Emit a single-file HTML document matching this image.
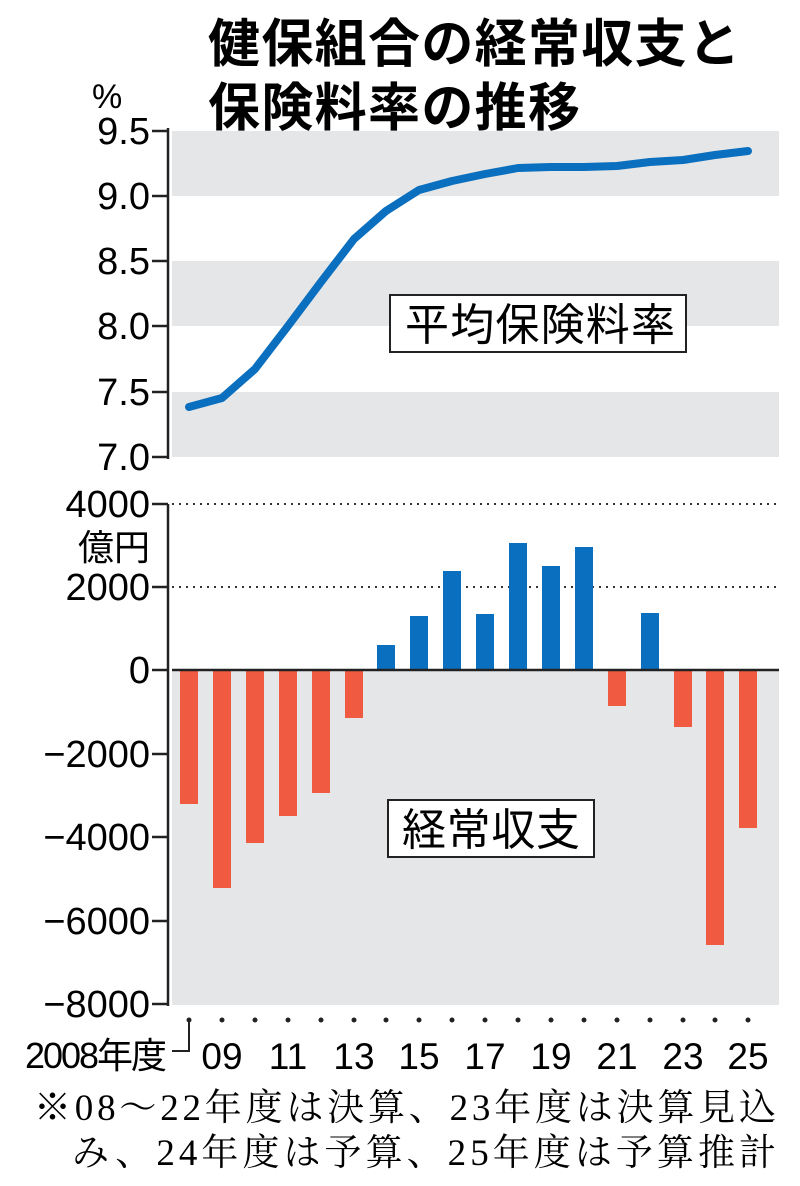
<!DOCTYPE html>
<html><head><meta charset="utf-8"><style>
body{margin:0;background:#fff;}
svg{display:block;}
.t{font-family:"Liberation Sans","Noto Sans CJK JP",sans-serif;}
.s{font-family:"Liberation Serif","Noto Serif CJK SC",serif;}
</style></head><body>
<svg width="800" height="1186" xmlns="http://www.w3.org/2000/svg">
<text class="t" x="208" y="62" font-size="52" font-weight="bold" textLength="532">健保組合の経常収支と</text>
<text class="t" x="208" y="126" font-size="52" font-weight="bold" textLength="372">保険料率の推移</text>
<text class="t" x="92" y="108" font-size="34">%</text>
<rect x="172" y="131" width="607" height="65" fill="#e5e6e8"/>
<rect x="172" y="261" width="607" height="65" fill="#e5e6e8"/>
<rect x="172" y="392" width="607" height="65" fill="#e5e6e8"/>
<line x1="168" y1="128" x2="168" y2="459" stroke="#222" stroke-width="2.5"/>
<g stroke="#222" stroke-width="2.5">
<line x1="152" y1="131" x2="168" y2="131"/><line x1="152" y1="196" x2="168" y2="196"/>
<line x1="152" y1="261" x2="168" y2="261"/><line x1="152" y1="326" x2="168" y2="326"/>
<line x1="152" y1="392" x2="168" y2="392"/><line x1="152" y1="457" x2="168" y2="457"/>
</g>
<g class="t" font-size="38" text-anchor="end">
<text x="150" y="144">9.5</text><text x="150" y="209">9.0</text><text x="150" y="274">8.5</text>
<text x="150" y="339">8.0</text><text x="150" y="405">7.5</text><text x="150" y="470">7.0</text>
</g>
<polyline fill="none" stroke="#0a6fbe" stroke-width="8" stroke-linecap="round" stroke-linejoin="round"
points="189,407 222,398 255,369 288,326 321,282 354,239 386,211 419,190 452,181 485,174 518,168 551,167 584,167 617,166 650,162 683,160 715,155 748,151"/>
<rect x="390" y="295" width="296" height="57" fill="#fff" stroke="#222" stroke-width="2"/>
<text class="t" x="405" y="340" font-size="44" textLength="270">平均保険料率</text>
<rect x="172" y="670" width="607" height="335" fill="#e5e6e8"/>
<g stroke="#333" stroke-width="2" stroke-dasharray="2,5">
<line x1="172" y1="504" x2="779" y2="504"/><line x1="172" y1="587" x2="779" y2="587"/>
</g>
<line x1="168" y1="504" x2="168" y2="1006" stroke="#222" stroke-width="2.5"/>
<g stroke="#222" stroke-width="2.5">
<line x1="152" y1="504" x2="168" y2="504"/><line x1="152" y1="587" x2="168" y2="587"/>
<line x1="152" y1="670" x2="168" y2="670"/><line x1="152" y1="754" x2="168" y2="754"/>
<line x1="152" y1="837" x2="168" y2="837"/><line x1="152" y1="921" x2="168" y2="921"/>
<line x1="152" y1="1004" x2="168" y2="1004"/>
</g>
<g class="t" font-size="38" text-anchor="end">
<text x="150" y="517">4000</text><text x="150" y="600">2000</text><text x="150" y="683">0</text>
<text x="150" y="767">−2000</text><text x="150" y="850">−4000</text><text x="150" y="934">−6000</text>
<text x="150" y="1017">−8000</text>
</g>
<text class="t" x="150" y="560" font-size="36" text-anchor="end">億円</text>
<g fill="#ef5a40">
<rect x="180" y="670" width="18" height="134"/>
<rect x="213" y="670" width="18" height="218"/>
<rect x="246" y="670" width="18" height="173"/>
<rect x="279" y="670" width="18" height="146"/>
<rect x="312" y="670" width="18" height="123"/>
<rect x="345" y="670" width="18" height="48"/>
<rect x="608" y="670" width="18" height="36"/>
<rect x="674" y="670" width="18" height="57"/>
<rect x="706" y="670" width="18" height="275"/>
<rect x="739" y="670" width="18" height="158"/>
</g>
<g fill="#0a6fbe">
<rect x="377" y="645" width="18" height="25"/>
<rect x="410" y="616" width="18" height="54"/>
<rect x="443" y="571" width="18" height="99"/>
<rect x="476" y="614" width="18" height="56"/>
<rect x="509" y="543" width="18" height="127"/>
<rect x="542" y="566" width="18" height="104"/>
<rect x="575" y="547" width="18" height="123"/>
<rect x="641" y="613" width="18" height="57"/>
</g>
<line x1="172" y1="670" x2="779" y2="670" stroke="#222" stroke-width="2.5"/>
<rect x="388" y="800" width="206" height="57" fill="#fff" stroke="#222" stroke-width="2"/>
<text class="t" x="402" y="845" font-size="44" textLength="178">経常収支</text>
<g fill="#222">
<circle cx="189" cy="1020" r="2.5"/><circle cx="222" cy="1020" r="2.5"/><circle cx="255" cy="1020" r="2.5"/>
<circle cx="288" cy="1020" r="2.5"/><circle cx="321" cy="1020" r="2.5"/><circle cx="354" cy="1020" r="2.5"/>
<circle cx="386" cy="1020" r="2.5"/><circle cx="419" cy="1020" r="2.5"/><circle cx="452" cy="1020" r="2.5"/>
<circle cx="485" cy="1020" r="2.5"/><circle cx="518" cy="1020" r="2.5"/><circle cx="551" cy="1020" r="2.5"/>
<circle cx="584" cy="1020" r="2.5"/><circle cx="617" cy="1020" r="2.5"/><circle cx="650" cy="1020" r="2.5"/>
<circle cx="683" cy="1020" r="2.5"/><circle cx="715" cy="1020" r="2.5"/><circle cx="748" cy="1020" r="2.5"/>
</g>
<polyline points="172,1051 189,1051 189,1022" fill="none" stroke="#222" stroke-width="2"/>
<text class="t" x="25" y="1068" font-size="36" textLength="142">2008年度</text>
<g class="t" font-size="37" text-anchor="middle">
<text x="222" y="1069">09</text><text x="288" y="1069">11</text><text x="354" y="1069">13</text>
<text x="419" y="1069">15</text><text x="485" y="1069">17</text><text x="551" y="1069">19</text>
<text x="617" y="1069">21</text><text x="683" y="1069">23</text><text x="748" y="1069">25</text>
</g>
<text class="s" x="34" y="1120" font-size="37" textLength="742">※08～22年度は決算、23年度は決算見込</text>
<text class="s" x="72" y="1165" font-size="37" textLength="704">み、24年度は予算、25年度は予算推計</text>
</svg>
</body></html>
